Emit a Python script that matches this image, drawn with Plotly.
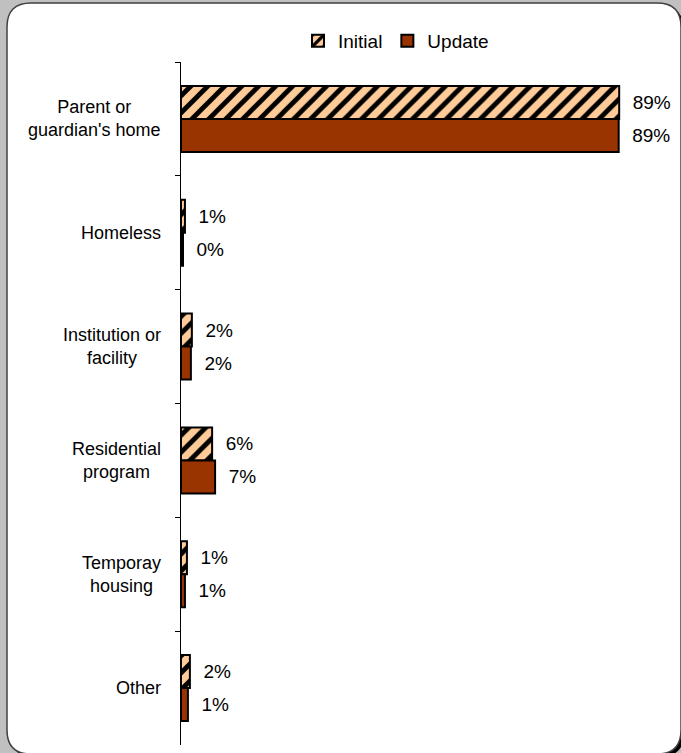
import plotly.graph_objects as go

categories = ["Parent or guardian's home", "Homeless", "Institution or facility",
              "Residential program", "Temporay housing", "Other"]
category_labels = ["Parent or<br>guardian's home", "Homeless", "Institution or<br>facility",
                   "Residential<br>program", "Temporay<br>housing", "Other"]
initial_values = [88.7, 0.8, 2.2, 6.3, 1.2, 1.8]
update_values = [88.6, 0.4, 2.0, 6.9, 0.8, 1.4]
initial_labels = ["89%", "1%", "2%", "6%", "1%", "2%"]
update_labels = ["89%", "0%", "2%", "7%", "1%", "1%"]

W, H = 681, 753
L, R, T, B = 181, 6, 62, 8
PW, PH = W - L - R, H - T - B


def px(x):
    return (x - L) / PW


def py(y):
    return (H - B - y) / PH


def rounded_rect(x0, y0, x1, y1, r):
    pts = [
        ("M", [(x0 + r, y0)]),
        ("L", [(x1 - r, y0)]),
        ("Q", [(x1, y0), (x1, y0 + r)]),
        ("L", [(x1, y1 - r)]),
        ("Q", [(x1, y1), (x1 - r, y1)]),
        ("L", [(x0 + r, y1)]),
        ("Q", [(x0, y1), (x0, y1 - r)]),
        ("L", [(x0, y0 + r)]),
        ("Q", [(x0, y0), (x0 + r, y0)]),
    ]
    s = ""
    for cmd, ps in pts:
        s += cmd + " " + " ".join(f"{px(a):.5f},{py(b):.5f}" for a, b in ps) + " "
    return s + "Z"


font = "Liberation Sans, Arial, sans-serif"
pad = "\u00a0\u00a0"

fig = go.Figure()
fig.add_trace(go.Bar(
    name="Initial", y=categories, x=initial_values, orientation="h",
    text=[pad + t for t in initial_labels], textposition="outside",
    constraintext="none", cliponaxis=False,
    textfont=dict(family=font, size=19, color="black"),
    marker=dict(color="#FFCC99", line=dict(color="black", width=2),
                pattern=dict(shape="/", fgcolor="black", bgcolor="#FFCC99",
                             fgopacity=1, size=12, solidity=0.4)),
))
fig.add_trace(go.Bar(
    name="Update", y=categories, x=update_values, orientation="h",
    text=[pad + t for t in update_labels], textposition="outside",
    constraintext="none", cliponaxis=False,
    textfont=dict(family=font, size=19, color="black"),
    marker=dict(color="#993300", line=dict(color="black", width=2)),
))

shapes = [
    dict(type="path", xref="paper", yref="paper", layer="below",
         path=rounded_rect(10, 6, 684, 757, 24), fillcolor="black",
         line=dict(width=0)),
    dict(type="path", xref="paper", yref="paper", layer="below",
         path=rounded_rect(7, 3, 681, 754, 24), fillcolor="white",
         line=dict(color="#404040", width=1.5)),
]

annotations = [
    dict(xref="paper", yref="y", x=px(163), y=c, text=lab, showarrow=False,
         xanchor="right", yanchor="middle", align="center",
         font=dict(family=font, size=18, color="black"))
    for c, lab in zip(categories, category_labels)
]

fig.update_layout(
    width=W, height=H,
    margin=dict(l=L, r=R, t=T, b=B, pad=0),
    paper_bgcolor="#C0C0C0",
    plot_bgcolor="rgba(0,0,0,0)",
    barmode="group", bargap=0.42, bargroupgap=0,
    font=dict(family=font, size=18, color="black"),
    showlegend=True,
    legend=dict(orientation="h", x=px(396), xanchor="center", y=py(41),
                yanchor="middle", font=dict(family=font, size=19, color="black"),
                bgcolor="rgba(0,0,0,0)", traceorder="normal"),
    xaxis=dict(range=[0, 100], visible=False, showgrid=False, zeroline=False),
    yaxis=dict(type="category", categoryorder="array", categoryarray=categories,
               autorange="reversed", showline=True, linecolor="black", linewidth=1,
               ticks="outside", tickson="boundaries", ticklen=5, tickcolor="black",
               showticklabels=False, showgrid=False, zeroline=False),
    shapes=shapes,
    annotations=annotations,
)

fig.write_html("out.html", config={"displayModeBar": False},
               post_script="document.body.style.margin='0';document.body.style.overflow='hidden';")
